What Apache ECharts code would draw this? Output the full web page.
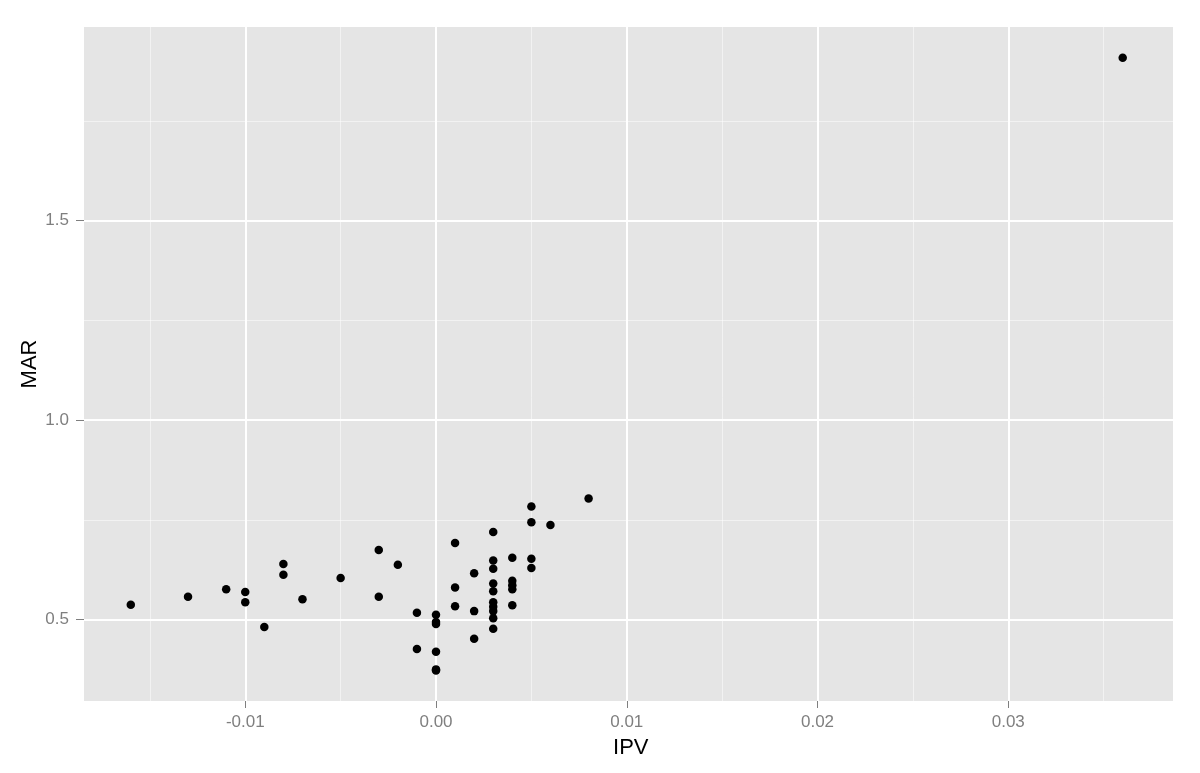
<!DOCTYPE html>
<html>
<head>
<meta charset="utf-8">
<script src="https://cdn.jsdelivr.net/npm/echarts@6/dist/echarts.min.js"></script>
<style>html,body{margin:0;padding:0;background:#fff}#c{width:1200px;height:773px}</style>
</head>
<body>
<div id="c"></div>
<script>
const ipv = [-0.016,-0.013,-0.011,-0.010,-0.010,-0.009,-0.008,-0.008,-0.007,-0.005,-0.003,-0.003,-0.002,-0.001,-0.001,
  0,0,0,0,0,0,0.001,0.001,0.001,0.002,0.002,0.002,
  0.003,0.003,0.003,0.003,0.003,0.003,0.003,0.003,0.003,0.003,
  0.004,0.004,0.004,0.004,0.004,0.005,0.005,0.005,0.005,0.006,0.008,0.036];
const mar = [0.537,0.557,0.576,0.569,0.543,0.481,0.639,0.612,0.551,0.604,0.674,0.557,0.637,0.517,0.426,
  0.512,0.494,0.489,0.419,0.375,0.372,0.692,0.580,0.533,0.616,0.521,0.452,
  0.719,0.648,0.627,0.590,0.571,0.543,0.532,0.521,0.503,0.477,
  0.655,0.597,0.586,0.576,0.536,0.783,0.744,0.652,0.629,0.737,0.803,1.908];
const xTicks = [-0.01, 0.00, 0.01, 0.02, 0.03];
const yTicks = [0.5, 1.0, 1.5];

const points = ipv.map((v, i) => [v, mar[i]]);
const font = 'Liberation Sans, Arial, sans-serif';
const chart = echarts.init(document.getElementById('c'));
chart.setOption({
  animation: false,
  grid: [
    {left: 84, right: 27, top: 27, bottom: 72, show: true, backgroundColor: '#E5E5E5', borderWidth: 0, outerBoundsMode: 'none'},
    {left: 54.5, right: 1, top: 21, height: 798, outerBoundsMode: 'none'}
  ],
  xAxis: [
    {gridIndex: 0, type: 'value', min: -0.02, max: 0.04, show: false},
    {gridIndex: 1, type: 'value', min: -0.02, max: 0.04, interval: 0.01, offset: -118,
      name: 'IPV', nameLocation: 'middle', nameGap: 36, nameMoveOverlap: false,
      nameTextStyle: {color: '#000', fontSize: 22, fontFamily: font, padding: [0, 0, 0, 8]},
      axisLine: {show: false, onZero: false},
      axisTick: {show: true, length: 7, lineStyle: {color: '#7F7F7F', width: 1}, customValues: xTicks},
      axisLabel: {customValues: xTicks, margin: 13, color: '#7F7F7F', fontSize: 17, fontFamily: font,
        formatter: v => v.toFixed(2)},
      splitLine: {show: true, lineStyle: {color: '#FFFFFF', width: 2}},
      minorTick: {show: false, splitNumber: 2},
      minorSplitLine: {show: true, lineStyle: {color: 'rgba(255,255,255,0.5)', width: 1}}
    }
  ],
  yAxis: [
    {gridIndex: 0, type: 'value', min: 0, max: 2, show: false},
    {gridIndex: 1, type: 'value', min: 0, max: 2.0, interval: 0.5, offset: -29.5,
      name: 'MAR', nameLocation: 'middle', nameGap: 43, nameMoveOverlap: false,
      nameTextStyle: {color: '#000', fontSize: 22, fontFamily: font, padding: [0, 0, 0, 112]},
      axisLine: {show: false, onZero: false},
      axisTick: {show: true, length: 8, lineStyle: {color: '#7F7F7F', width: 1}, customValues: yTicks},
      axisLabel: {customValues: yTicks, margin: 15, color: '#7F7F7F', fontSize: 17, fontFamily: font,
        formatter: v => v.toFixed(1)},
      splitLine: {show: true, lineStyle: {color: '#FFFFFF', width: 2}},
      minorTick: {show: false, splitNumber: 2},
      minorSplitLine: {show: true, lineStyle: {color: 'rgba(255,255,255,0.5)', width: 1}}
    }
  ],
  series: [{
    type: 'scatter', xAxisIndex: 1, yAxisIndex: 1,
    data: points, symbolSize: 8.5,
    itemStyle: {color: '#000', opacity: 1}
  }]
});
</script>
</body>
</html>
